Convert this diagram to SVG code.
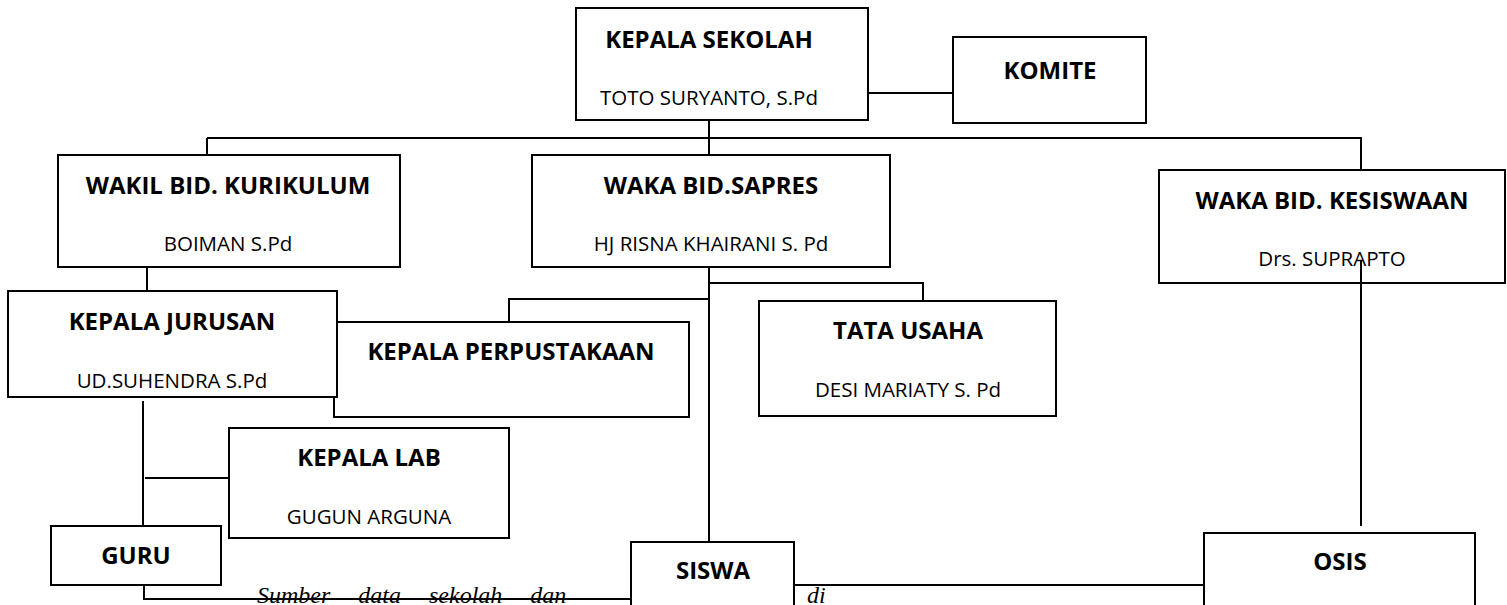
<svg xmlns="http://www.w3.org/2000/svg" width="1507" height="605" viewBox="0 0 1507 605">
<style>
.box{fill:#fff;stroke:#000;stroke-width:2}
.ln{fill:none;stroke:#000;stroke-width:2}
.t{font-family:"Open Sans","Liberation Sans",sans-serif;font-weight:bold;font-size:24px;fill:#000;text-anchor:middle}
.s{font-family:"Open Sans","Liberation Sans",sans-serif;font-size:20.5px;fill:#000;text-anchor:middle}
.note{font-family:"Liberation Serif",serif;font-style:italic;font-size:24px;fill:#000}
</style>
<rect width="1507" height="605" fill="#fff"/>
<g id="note">
<text class="note" x="257" y="603" word-spacing="22">Sumber data sekolah dan</text>
<text class="note" x="807" y="603">di</text>
</g>
<g id="connectors">
<path class="ln" d="M868 93H953"/>
<path class="ln" d="M709 120V155"/>
<path class="ln" d="M207 138H1361"/>
<path class="ln" d="M207 138V155"/>
<path class="ln" d="M1361 137V170"/>
<path class="ln" d="M147 267V291"/>
<path class="ln" d="M709 267V541"/>
<path class="ln" d="M709 283H923V301"/>
<path class="ln" d="M709 299H509V322"/>
<path class="ln" d="M143 401V526"/>
<path class="ln" d="M145 478H229"/>
<path class="ln" d="M144 585V599H631"/>
<path class="ln" d="M794 585H1204"/>
<path class="ln" d="M1361 260V526"/>
</g>
<g id="kepala-sekolah">
<rect class="box" x="576" y="8" width="292" height="112"/>
<text class="t" x="709" y="48">KEPALA SEKOLAH</text>
<text class="s" x="709" y="105">TOTO SURYANTO, S.Pd</text>
</g>
<g id="komite">
<rect class="box" x="953" y="37" width="193" height="86"/>
<text class="t" x="1050" y="79">KOMITE</text>
</g>
<g id="wakil-kurikulum">
<rect class="box" x="58" y="155" width="342" height="112"/>
<text class="t" x="228" y="194">WAKIL BID. KURIKULUM</text>
<text class="s" x="228" y="251">BOIMAN S.Pd</text>
</g>
<g id="waka-sapres">
<rect class="box" x="532" y="155" width="358" height="112"/>
<text class="t" x="711" y="194">WAKA BID.SAPRES</text>
<text class="s" x="711" y="251">HJ RISNA KHAIRANI S. Pd</text>
</g>
<g id="waka-kesiswaan">
<rect class="box" x="1159" y="170" width="346" height="113"/>
<text class="t" x="1332" y="209">WAKA BID. KESISWAAN</text>
<text class="s" x="1332" y="266">Drs. SUPRAPTO</text>
<path class="ln" d="M1361 260V283"/>
</g>
<g id="kepala-perpustakaan">
<rect class="box" x="334" y="322" width="355" height="95"/>
<text class="t" x="511" y="360">KEPALA PERPUSTAKAAN</text>
</g>
<g id="kepala-jurusan">
<rect class="box" x="8" y="291" width="329" height="106"/>
<text class="t" x="172" y="330">KEPALA JURUSAN</text>
<text class="s" x="172" y="388">UD.SUHENDRA S.Pd</text>
</g>
<g id="tata-usaha">
<rect class="box" x="759" y="301" width="297" height="115"/>
<text class="t" x="908" y="339">TATA USAHA</text>
<text class="s" x="908" y="397">DESI MARIATY S. Pd</text>
</g>
<g id="kepala-lab">
<rect class="box" x="229" y="428" width="280" height="110"/>
<text class="t" x="369" y="466">KEPALA LAB</text>
<text class="s" x="369" y="524">GUGUN ARGUNA</text>
</g>
<g id="guru">
<rect class="box" x="51" y="526" width="170" height="59"/>
<text class="t" x="136" y="564">GURU</text>
</g>
<g id="siswa">
<rect class="box" x="631" y="542" width="163" height="80"/>
<text class="t" x="713" y="579">SISWA</text>
</g>
<g id="osis">
<rect class="box" x="1204" y="533" width="271" height="90"/>
<text class="t" x="1340" y="570">OSIS</text>
</g>
</svg>
